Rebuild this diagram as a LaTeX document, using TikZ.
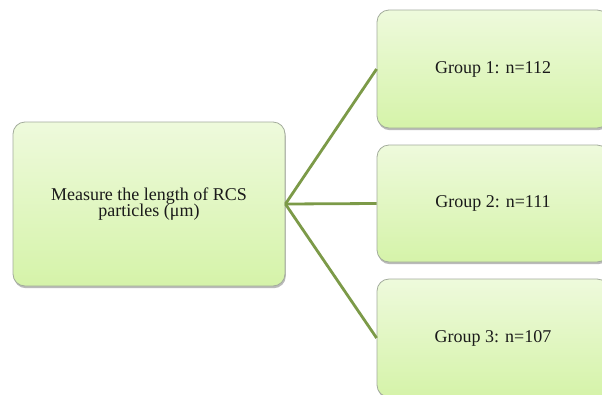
\documentclass[tikz,border=0pt]{standalone}
\usepackage{fontspec}
\setmainfont{Liberation Serif}
\usetikzlibrary{shadows}
\definecolor{boxtop}{HTML}{EEFADC}
\definecolor{boxbot}{HTML}{D5F3A9}
\definecolor{boxedge}{HTML}{A3AC9C}
\definecolor{linkgreen}{HTML}{7C9A48}
\definecolor{ink}{HTML}{1A1A1A}
\tikzset{
  card/.style={draw=boxedge, line width=0.8pt, rounded corners=12pt,
    top color=boxtop, bottom color=boxbot,
    drop shadow={shadow xshift=0.8pt, shadow yshift=-2.2pt, opacity=0.45, fill=black!60},
    text=ink, font=\fontsize{18}{16.5}\selectfont, align=center,
    inner sep=0pt},
  link/.style={draw=linkgreen, line width=2.8pt}
}
\begin{document}
\begin{tikzpicture}[x=1pt,y=-1pt]
\useasboundingbox (0,0) rectangle (602,394);
\clip (0,0) rectangle (602,394);
\fill[white] (0,0) rectangle (602,394);

% source box
\node[card, minimum width=272pt, minimum height=164pt] (src) at (149,204)
  {Measure the length of RCS\\particles (μm)};

% group boxes, running off the right edge
\node[card, minimum width=232pt, minimum height=118pt] (g1) at (493,69) {Group 1: n=112};
\node[card, minimum width=232pt, minimum height=117pt] (g2) at (493,203.5) {Group 2: n=111};
\node[card, minimum width=232pt, minimum height=118pt] (g3) at (493,338) {Group 3: n=107};

% connectors
\draw[link] (src.east) -- (g1.west);
\draw[link] (src.east) -- (g2.west);
\draw[link] (src.east) -- (g3.west);
\end{tikzpicture}
\end{document}
